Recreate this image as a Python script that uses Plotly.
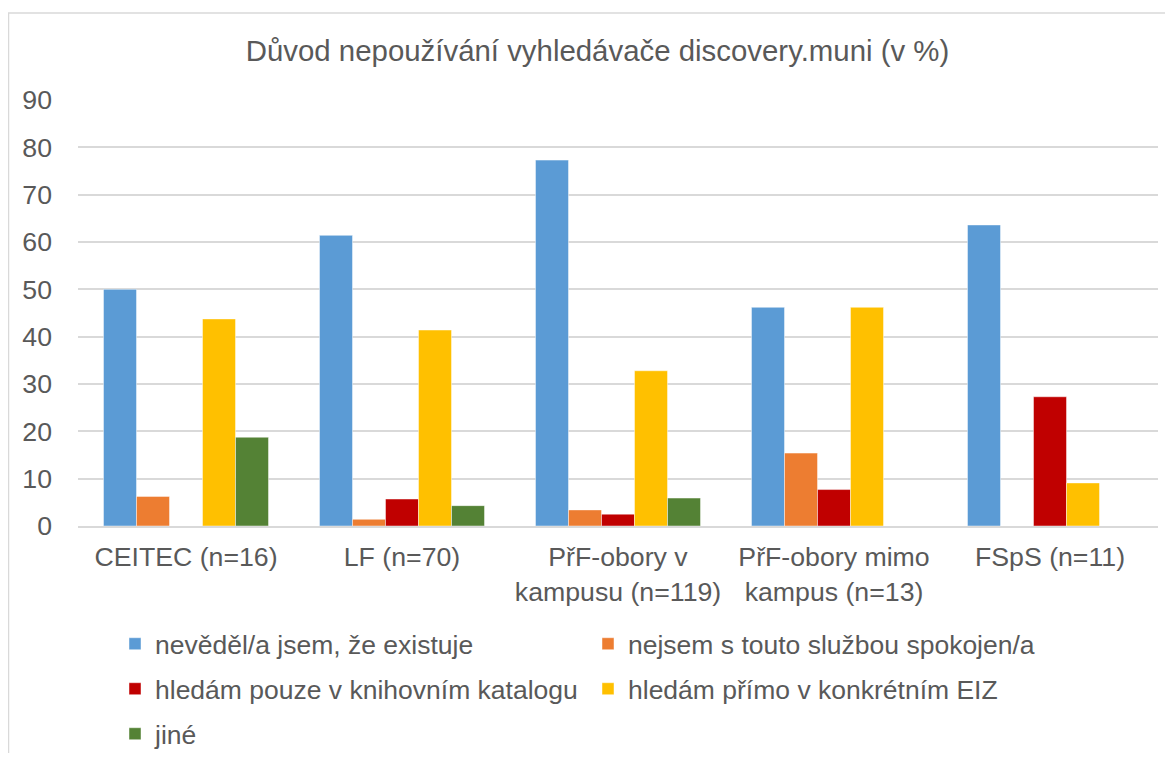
import plotly.graph_objects as go

categories = ["CEITEC (n=16)", "LF (n=70)", "PřF-obory v<br>kampusu (n=119)",
              "PřF-obory mimo<br>kampus (n=13)", "FSpS (n=11)"]
series_names = ["nevěděl/a jsem, že existuje", "nejsem s touto službou spokojen/a",
                "hledám pouze v knihovním katalogu", "hledám přímo v konkrétním EIZ", "jiné"]
neveděl = [50.0, 61.4, 77.3, 46.2, 63.6]
nespokojen = [6.25, 1.4, 3.4, 15.4, 0]
katalog = [0, 5.7, 2.5, 7.7, 27.3]
eiz = [43.75, 41.4, 32.8, 46.2, 9.1]
jine = [18.75, 4.3, 5.9, 0, 0]
y_ticks = [0, 10, 20, 30, 40, 50, 60, 70, 80, 90]

colors = ["#5B9BD5", "#ED7D31", "#C00000", "#FFC000", "#548235"]
legend_ids = ["legend", "legend", "legend2", "legend2", "legend3"]
values = [neveděl, nespokojen, katalog, eiz, jine]

FONT = "Liberation Sans, Arial, sans-serif"
TXT = "#595959"
W, H = 1157, 745  # page body has an 8px margin
ML, MR, MT, MB = 70, 7, 92, 227
PW, PH = W - ML - MR, H - MT - MB

fig = go.Figure()
for name, vals, col, lg in zip(series_names, values, colors, legend_ids):
    fig.add_trace(go.Bar(x=categories, y=vals, name=name,
                         marker=dict(color=col, line=dict(color="rgba(255,255,255,0.6)", width=0.75)),
                         legend=lg))

def leg(ycenter_px):
    return dict(orientation="h", xref="container", yref="container",
                x=107 / W, y=1 - ycenter_px / H, xanchor="left", yanchor="middle",
                entrywidth=428, entrywidthmode="pixels", traceorder="normal",
                font=dict(family=FONT, size=26.5, color=TXT),
                bgcolor="rgba(0,0,0,0)", itemclick=False)

fig.update_layout(
    width=W, height=H,
    margin=dict(l=ML, r=MR, t=MT, b=MB),
    paper_bgcolor="white", plot_bgcolor="white",
    barmode="group", bargap=0.236, bargroupgap=0,
    title=dict(text="Důvod nepoužívání vyhledávače discovery.muni (v %)",
               font=dict(family=FONT, size=29.4, color=TXT),
               x=589.5 / W, xanchor="center", xref="container", y=1 - 43 / H, yanchor="middle", yref="container"),
    font=dict(family=FONT, color=TXT),
    legend=leg(636), legend2=leg(681), legend3=leg(726),
    showlegend=True,
    xaxis=dict(showgrid=False, showline=True, linecolor="#D9D9D9", linewidth=1.5,
               tickfont=dict(family=FONT, size=26.7, color=TXT), ticks="", ticklabelstandoff=6),
    yaxis=dict(range=[0, 90], tickvals=y_ticks, showgrid=True, gridcolor="#D9D9D9", gridwidth=1.5,
               zeroline=False, showline=False, ticks="", ticklabelstandoff=25,
               tickfont=dict(family=FONT, size=26.7, color=TXT)),
    shapes=[dict(type="rect", xref="paper", yref="paper",
                 x0=(0.5 - ML) / PW, x1=(W + 20 - ML) / PW,
                 y0=(MT + PH - H - 30) / PH, y1=(MT + PH - 5) / PH,
                 line=dict(color="#D9D9D9", width=1.5), fillcolor="rgba(0,0,0,0)", layer="below")],
)

fig.write_html("out.html")
